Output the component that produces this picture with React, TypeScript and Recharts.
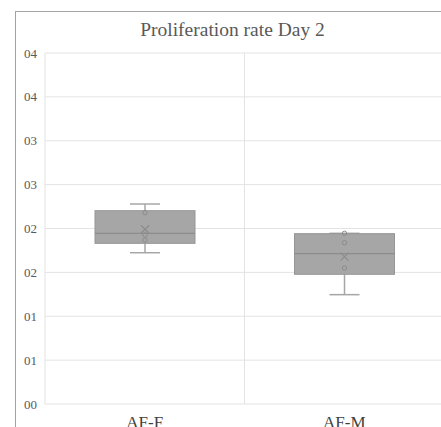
import { ComposedChart, Bar, XAxis, YAxis, CartesianGrid } from 'recharts'

// five-number summaries per group
const groups = ['AF-F', 'AF-M']
const whiskerLow = [0.01724, 0.01246]
const boxLow = [0.01831, 0.01478]
const medians = [0.01945, 0.01713]
const boxHigh = [0.02203, 0.01941]
const whiskerHigh = [0.02279, 0.01945]
const means = [0.01991, 0.01679]
const innerPoints = [
  [0.0218, 0.01926, 0.01869],
  [0.01945, 0.01838, 0.0155],
]

const yTicks = [0, 0.005, 0.01, 0.015, 0.02, 0.025, 0.03, 0.035, 0.04]
const yTickLabels = ['00', '01', '01', '02', '02', '03', '03', '04', '04']

const data = groups.map((name, i) => ({
  name,
  range: [whiskerLow[i], whiskerHigh[i]],
  q1: boxLow[i],
  median: medians[i],
  q3: boxHigh[i],
  mean: means[i],
  points: innerPoints[i],
}))

const BOX_FILL = '#a6a6a6'
const BOX_STROKE = '#969696'
const MARK = '#8c8c8c'

function BoxShape(props: any) {
  const { x, y, width, height, payload } = props
  const [lo, hi] = payload.range
  const top = Math.min(y, y + height)
  const bottom = Math.max(y, y + height)
  const span = hi - lo || 1
  const toY = (v: number) => bottom - ((v - lo) / span) * (bottom - top)
  const cx = x + width / 2
  const capHalf = width * 0.15
  const yQ1 = toY(payload.q1)
  const yQ3 = toY(payload.q3)
  const yMed = toY(payload.median)
  const yMean = toY(payload.mean)
  const m = 4
  return (
    <g>
      <line x1={cx} x2={cx} y1={toY(hi)} y2={yQ3} stroke={BOX_FILL} strokeWidth={1.5} />
      <line x1={cx} x2={cx} y1={yQ1} y2={toY(lo)} stroke={BOX_FILL} strokeWidth={1.5} />
      <line x1={cx - capHalf} x2={cx + capHalf} y1={toY(hi)} y2={toY(hi)} stroke={BOX_FILL} strokeWidth={1.5} />
      <line x1={cx - capHalf} x2={cx + capHalf} y1={toY(lo)} y2={toY(lo)} stroke={BOX_FILL} strokeWidth={1.5} />
      <rect x={x} y={yQ3} width={width} height={yQ1 - yQ3} fill={BOX_FILL} stroke={BOX_STROKE} strokeWidth={1} />
      <line x1={x} x2={x + width} y1={yMed} y2={yMed} stroke={MARK} strokeWidth={1.2} />
      <line x1={cx - m} x2={cx + m} y1={yMean - m} y2={yMean + m} stroke={MARK} strokeWidth={1.2} />
      <line x1={cx - m} x2={cx + m} y1={yMean + m} y2={yMean - m} stroke={MARK} strokeWidth={1.2} />
      {payload.points.map((p: number, i: number) => (
        <circle key={i} cx={cx} cy={toY(p)} r={2.2} fill="none" stroke={MARK} strokeWidth={1} />
      ))}
    </g>
  )
}

export default function App() {
  return (
    <div
      style={{
        position: 'fixed',
        left: 0,
        top: 0,
        width: 441,
        height: 427,
        overflow: 'hidden',
        background: '#fff',
      }}
    >
      <div
        style={{
          position: 'absolute',
          left: 15,
          top: 11,
          width: 435,
          height: 440,
          border: '1.5px solid #a3a3a3',
          boxSizing: 'border-box',
        }}
      />
      <div
        style={{
          position: 'absolute',
          left: 15,
          top: 19,
          width: 435,
          textAlign: 'center',
          fontFamily: '"Liberation Serif", serif',
          fontSize: 19.5,
          color: '#595959',
          whiteSpace: 'nowrap',
        }}
      >
        Proliferation rate Day 2
      </div>
      <div style={{ position: 'absolute', left: 0, top: 0 }}>
        <ComposedChart
          width={446}
          height={434}
          data={data}
          margin={{ top: 53, right: 2, bottom: 0, left: 0 }}
          barCategoryGap="25%"
        >
          <CartesianGrid
            stroke="#e3e3e3"
            verticalCoordinatesGenerator={({ offset }: any) => [
              offset.left,
              offset.left + offset.width / 2,
              offset.left + offset.width,
            ]}
          />
          <XAxis
            dataKey="name"
            axisLine={false}
            tickLine={false}
            height={30}
            tickMargin={6}
            tick={{ fontFamily: '"Liberation Serif", serif', fontSize: 17, fill: '#404040' }}
          />
          <YAxis
            width={45}
            domain={[0, 0.04]}
            ticks={yTicks}
            axisLine={false}
            tickLine={false}
            tickFormatter={(v: number) => yTickLabels[yTicks.indexOf(v)] ?? ''}
            tick={{ fontFamily: '"Liberation Serif", serif', fontSize: 13, fill: '#595959' }}
          />
          <Bar dataKey="range" barSize={100} shape={BoxShape} isAnimationActive={false} />
        </ComposedChart>
      </div>
    </div>
  )
}
